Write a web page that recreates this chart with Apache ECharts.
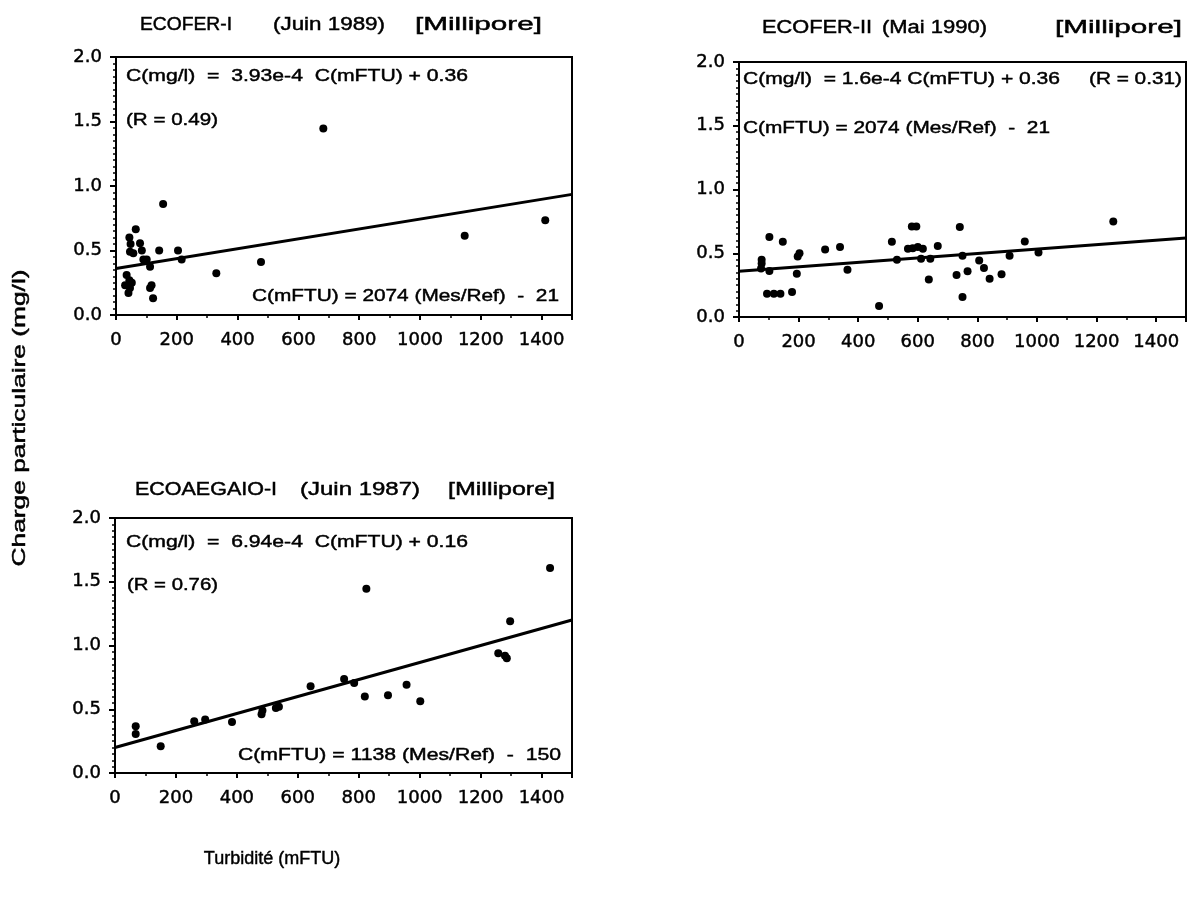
<!DOCTYPE html>
<html>
<head>
<meta charset="utf-8">
<script src="https://cdn.jsdelivr.net/npm/echarts@6/dist/echarts.min.js"></script>
<style>html,body{margin:0;padding:0;background:#fff}#c{width:1188px;height:902px}</style>
</head>
<body>
<div id="c"></div>
<script>
// ---- data ----
var xTicks = [0, 200, 400, 600, 800, 1000, 1200, 1400];
var yTicks = [0.0, 0.5, 1.0, 1.5, 2.0];

// ECOFER-I (Juin 1989)
var x1 = [682,155,65,44,48,79,46,85,57,90,101,112,117,112,122,142,204,216,330,477,1147,1412,35,44,30,46,41,52];
var y1 = [1.445,0.86,0.664,0.60,0.55,0.556,0.49,0.50,0.478,0.43,0.43,0.375,0.23,0.21,0.13,0.50,0.50,0.43,0.323,0.41,0.614,0.735,0.31,0.27,0.23,0.21,0.17,0.25];
var fit1x = [0, 1500];
var fit1y = [0.36, 0.935];

// ECOFER-II (Mai 1990)
var x2 = [1256,102,147,76,76,74,102,94,117,139,178,194,203,197,289,339,364,470,513,530,580,595,567,583,600,617,611,642,667,637,741,750,730,767,750,806,822,841,881,908,959,1005];
var y2 = [0.75,0.627,0.59,0.45,0.42,0.38,0.36,0.183,0.183,0.183,0.196,0.34,0.50,0.475,0.53,0.55,0.37,0.086,0.59,0.45,0.71,0.71,0.535,0.54,0.55,0.535,0.457,0.457,0.557,0.295,0.706,0.48,0.33,0.358,0.157,0.444,0.384,0.30,0.335,0.48,0.593,0.505];
var fit2x = [0, 1500];
var fit2y = [0.358, 0.62];

// ECOAEGAIO-I (Juin 1987)
var x3 = [1428,825,1297,1258,1286,1280,1002,957,896,820,752,785,642,538,528,481,484,384,296,260,68,68,150];
var y3 = [1.608,1.446,1.19,0.94,0.90,0.92,0.562,0.693,0.609,0.60,0.737,0.706,0.68,0.52,0.51,0.46,0.49,0.40,0.42,0.405,0.366,0.306,0.209];
var fit3x = [0, 1500];
var fit3y = [0.20, 1.20];

// texts
var title1 = ["ECOFER-I", "(Juin 1989)", "[Millipore]"];
var title2 = ["ECOFER-II", "(Mai 1990)", "[Millipore]"];
var title3 = ["ECOAEGAIO-I", "(Juin 1987)", "[Millipore]"];
var eq1 = ["C(mg/l)  =  3.93e-4  C(mFTU) + 0.36", "(R = 0.49)", "C(mFTU) = 2074 (Mes/Ref)  -  21"];
var eq2 = ["C(mg/l)  = 1.6e-4 C(mFTU) + 0.36", "(R = 0.31)", "C(mFTU) = 2074 (Mes/Ref)  -  21"];
var eq3 = ["C(mg/l)  =  6.94e-4  C(mFTU) + 0.16", "(R = 0.76)", "C(mFTU) = 1138 (Mes/Ref)  -  150"];
var yTitle = "Charge particulaire (mg/l)";
var xTitle = "Turbidité (mFTU)";

function pairs(xs, ys){ return xs.map(function(v,i){ return [v, ys[i]]; }); }

var FONT = "'Liberation Sans', Arial, Helvetica, sans-serif";
var LFONT = "'DejaVu Sans', 'Liberation Sans', sans-serif";
var grids = [
  {left:116, top:57, width:456, height:258},
  {left:739, top:62, width:447, height:255},
  {left:115, top:518, width:457, height:255}
];
grids.forEach(function(g){ g.show = true; g.borderColor = '#000'; g.borderWidth = 2; g.backgroundColor = 'transparent'; });

function xAxis(i){
  return {
    gridIndex:i, type:'value', min:xTicks[0], max:1500, interval:xTicks[1]-xTicks[0],
    axisLine:{show:true, onZero:false, lineStyle:{color:'#000', width:2}},
    axisTick:{show:true, length:5, lineStyle:{color:'#000', width:2}},
    minorTick:{show:true, splitNumber:2, length:3, lineStyle:{color:'#000', width:1.5}},
    splitLine:{show:false},
    axisLabel:{color:'#000', fontSize:18, fontFamily:LFONT, margin:16, showMaxLabel:false,
      textBorderColor:'#000', textBorderWidth:0.45,
      formatter:function(v){ return String(v); }}
  };
}
function yAxis(i){
  return {
    gridIndex:i, type:'value', min:yTicks[0], max:yTicks[yTicks.length-1], interval:yTicks[1]-yTicks[0],
    axisLine:{show:true, onZero:false, lineStyle:{color:'#000', width:2}},
    axisTick:{show:true, length:6, lineStyle:{color:'#000', width:2}},
    minorTick:{show:true, splitNumber:10, length:3, lineStyle:{color:'#000', width:1.5}},
    splitLine:{show:false},
    axisLabel:{color:'#000', fontSize:18, fontFamily:LFONT, margin:14,
      textBorderColor:'#000', textBorderWidth:0.45,
      formatter:function(v){return v.toFixed(1);}}
  };
}
function scatter(i, xs, ys){
  return {type:'scatter', xAxisIndex:i, yAxisIndex:i, data:pairs(xs,ys), symbol:'circle', symbolSize:8,
    itemStyle:{color:'#000', opacity:1}, silent:true, z:3};
}
function fit(i, xs, ys){
  return {type:'line', xAxisIndex:i, yAxisIndex:i, data:pairs(xs,ys), symbol:'none',
    lineStyle:{color:'#000', width:3}, silent:true, z:2};
}

// text placed by its left edge and stretched to the width seen in the picture
var ctx = document.createElement('canvas').getContext('2d');
function stretched(left, cy, s, width, size){
  var font = size + 'px ' + FONT;
  ctx.font = font;
  var w = ctx.measureText(s).width;
  return {type:'text', x:left, y:cy, scaleX:width / w,
    style:{text:s, fill:'#000', stroke:'#000', lineWidth:0.45, font:font, align:'left', verticalAlign:'middle'}};
}

var graphic = [
  stretched(140, 25, title1[0], 92, 18),
  stretched(273, 25, title1[1], 112, 18),
  stretched(415, 25, title1[2], 127, 18),

  stretched(762, 28, title2[0], 110, 18),
  stretched(882, 28, title2[1], 105, 18),
  stretched(1055, 28, title2[2], 127, 18),

  stretched(135, 490, title3[0], 142, 18),
  stretched(300, 490, title3[1], 120, 18),
  stretched(448, 490, title3[2], 107, 18),

  stretched(126, 76, eq1[0], 342, 17),
  stretched(126, 120, eq1[1], 92, 17),
  stretched(252, 296, eq1[2], 307, 17),

  stretched(743, 79, eq2[0], 317, 17),
  stretched(1089, 79, eq2[1], 93, 17),
  stretched(743, 128, eq2[2], 307, 17),

  stretched(126, 542, eq3[0], 342, 17),
  stretched(127, 585, eq3[1], 91, 17),
  stretched(238, 755, eq3[2], 323, 17),

  {type:'text', x:272, y:859, style:{text:xTitle, fill:'#000', stroke:'#000', lineWidth:0.45,
    font:'18px ' + FONT, align:'center', verticalAlign:'middle'}}
];
// vertical axis title, reading bottom-to-top
(function(){
  var font = '18px ' + FONT; ctx.font = font;
  var w = ctx.measureText(yTitle).width;
  graphic.push({type:'text', x:20, y:418, rotation:Math.PI/2, scaleX:297 / w,
    style:{text:yTitle, fill:'#000', stroke:'#000', lineWidth:0.45, font:font, align:'center', verticalAlign:'middle'}});
})();

var chart = echarts.init(document.getElementById('c'), null, {renderer:'canvas'});
chart.setOption({
  animation:false,
  backgroundColor:'#fff',
  grid:grids,
  xAxis:[xAxis(0), xAxis(1), xAxis(2)],
  yAxis:[yAxis(0), yAxis(1), yAxis(2)],
  series:[fit(0,fit1x,fit1y), scatter(0,x1,y1), fit(1,fit2x,fit2y), scatter(1,x2,y2), fit(2,fit3x,fit3y), scatter(2,x3,y3)],
  graphic:graphic
});
</script>
</body>
</html>
